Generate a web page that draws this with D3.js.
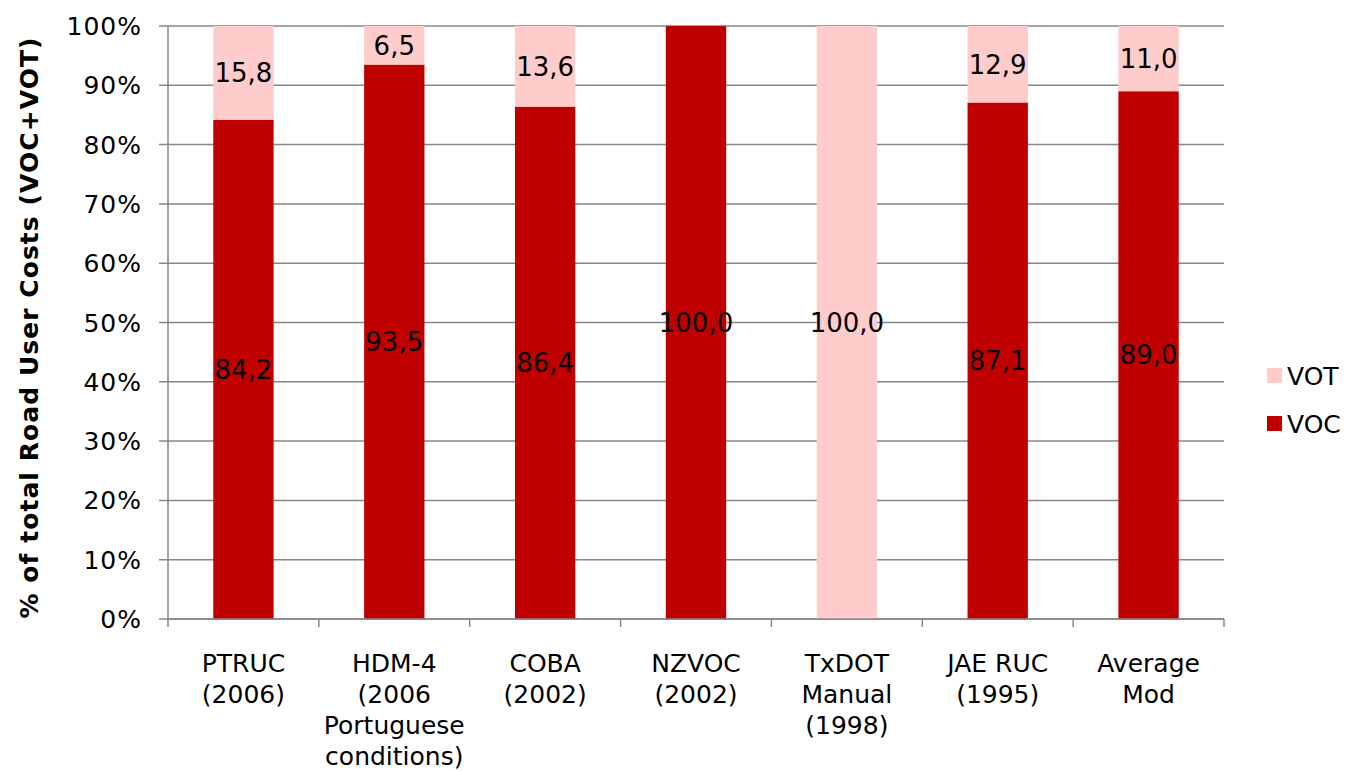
<!DOCTYPE html>
<html>
<head>
<meta charset="utf-8">
<script src="https://cdn.jsdelivr.net/npm/d3@7/dist/d3.min.js"></script>
<style>
  html, body { margin: 0; padding: 0; background: #fff; }
  svg { display: block; font-family: "DejaVu Sans", Verdana, sans-serif; }
</style>
</head>
<body>
<svg id="chart" width="1348" height="771"></svg>
<script>
// ---- Data ----
const categories = [
  ["PTRUC", "(2006)"],
  ["HDM-4", "(2006", "Portuguese", "conditions)"],
  ["COBA", "(2002)"],
  ["NZVOC", "(2002)"],
  ["TxDOT", "Manual", "(1998)"],
  ["JAE RUC", "(1995)"],
  ["Average", "Mod"]
];
const vocValues = [84.2, 93.5, 86.4, 100.0, 0.0, 87.1, 89.0];
const votValues = [15.8, 6.5, 13.6, 0.0, 100.0, 12.9, 11.0];
const yTicks = [0, 10, 20, 30, 40, 50, 60, 70, 80, 90, 100];
const seriesNames = ["VOC", "VOT"];
const seriesColors = { VOC: "#C00000", VOT: "#FFCCCC" };

(function () {
// ---- Layout ----
const svg = d3.select("#chart");
const pL = 168, pR = 1224, pT = 26, pB = 619;

const x = d3.scaleBand()
  .domain(d3.range(categories.length))
  .range([pL, pR])
  .paddingInner(0.6)
  .paddingOuter(0.3);
const step = (pR - pL) / categories.length;
const y = d3.scaleLinear().domain([0, 100]).range([pB, pT]);

// gridlines
svg.append("g")
  .selectAll("line")
  .data(yTicks)
  .join("line")
  .attr("x1", pL - 9).attr("x2", pR)
  .attr("y1", d => y(d)).attr("y2", d => y(d))
  .attr("stroke", "#878787").attr("stroke-width", 1.5);

// y-axis line
svg.append("line")
  .attr("x1", pL).attr("x2", pL)
  .attr("y1", pT).attr("y2", pB)
  .attr("stroke", "#878787").attr("stroke-width", 1.5);

// y tick labels
svg.append("g")
  .selectAll("text")
  .data(yTicks)
  .join("text")
  .attr("x", pL - 26)
  .attr("y", d => y(d))
  .attr("dy", "0.36em")
  .attr("text-anchor", "end")
  .attr("font-size", 25)
  .attr("letter-spacing", 1)
  .attr("fill", "#000")
  .text(d => d + "%");

// stacked data
const rows = categories.map((c, i) => ({ i, VOC: vocValues[i], VOT: votValues[i] }));
const stack = d3.stack().keys(seriesNames)(rows);

const layers = svg.append("g")
  .selectAll("g")
  .data(stack)
  .join("g")
  .attr("fill", d => seriesColors[d.key]);

layers.selectAll("rect")
  .data(d => d)
  .join("rect")
  .attr("x", d => x(d.data.i))
  .attr("width", x.bandwidth())
  .attr("y", d => y(d[1]))
  .attr("height", d => y(d[0]) - y(d[1]));

// data labels
const fmt = v => d3.format(".1f")(v).replace(".", ",");
const labelG = svg.append("g");
stack.forEach(layer => {
  labelG.selectAll(null)
    .data(layer.filter(d => d[1] - d[0] > 0))
    .join("text")
    .attr("x", d => x(d.data.i) + x.bandwidth() / 2)
    .attr("y", d => y((d[0] + d[1]) / 2))
    .attr("dy", "0.36em")
    .attr("text-anchor", "middle")
    .attr("font-size", 26)
    .attr("fill", "#000")
    .text(d => fmt(d[1] - d[0]));
});

// x-axis line and ticks
svg.append("line")
  .attr("x1", pL).attr("x2", pR)
  .attr("y1", pB).attr("y2", pB)
  .attr("stroke", "#878787").attr("stroke-width", 1.5);
svg.append("g")
  .selectAll("line")
  .data(d3.range(categories.length + 1))
  .join("line")
  .attr("x1", d => pL + d * step).attr("x2", d => pL + d * step)
  .attr("y1", pB).attr("y2", pB + 8)
  .attr("stroke", "#878787").attr("stroke-width", 1.5);

// x labels
const xl = svg.append("g")
  .selectAll("text")
  .data(categories)
  .join("text")
  .attr("text-anchor", "middle")
  .attr("font-size", 25)
  .attr("fill", "#000");
xl.each(function(lines, i) {
  const cx = x(i) + x.bandwidth() / 2;
  d3.select(this).selectAll("tspan")
    .data(lines)
    .join("tspan")
    .attr("x", cx)
    .attr("y", (d, j) => 672 + j * 31)
    .text(d => d);
});

// y-axis title
svg.append("text")
  .attr("transform", `translate(38, 327.5) rotate(-90)`)
  .attr("text-anchor", "middle")
  .attr("font-size", 25)
  .attr("font-weight", "bold")
  .attr("letter-spacing", 1.05)
  .attr("fill", "#000")
  .text("% of total Road User Costs (VOC+VOT)");

// legend (VOT above VOC)
const legendItems = ["VOT", "VOC"];
const lg = svg.append("g")
  .selectAll("g")
  .data(legendItems)
  .join("g")
  .attr("transform", (d, i) => `translate(1267, ${368 + i * 48})`);
lg.append("rect")
  .attr("width", 15).attr("height", 15)
  .attr("fill", d => seriesColors[d]);
lg.append("text")
  .attr("x", 20).attr("y", 7.5)
  .attr("dy", "0.36em")
  .attr("font-size", 25)
  .attr("fill", "#000")
  .text(d => d);
})();
</script>
</body>
</html>
